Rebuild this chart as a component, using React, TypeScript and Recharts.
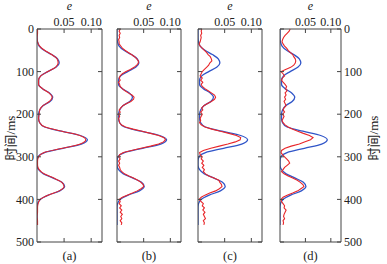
import React from "react";
import { LineChart, Line, XAxis, YAxis } from "recharts";

// time grid (ms)
const T10 = [0, 10, 20, 30, 40, 50, 60, 70, 80, 90, 100, 110, 120, 130, 140, 150, 160, 170, 180, 190, 200, 210, 220, 230, 240, 250, 260, 270, 280, 290, 300, 310, 320, 330, 340, 350, 360, 370, 380, 390, 400, 410, 420, 430, 440, 450, 460];
const T5 = [0, 5, 10, 15, 20, 25, 30, 35, 40, 45, 50, 55, 60, 65, 70, 75, 80, 85, 90, 95, 100, 105, 110, 115, 120, 125, 130, 135, 140, 145, 150, 155, 160, 165, 170, 175, 180, 185, 190, 195, 200, 205, 210, 215, 220, 225, 230, 235, 240, 245, 250, 255, 260, 265, 270, 275, 280, 285, 290, 295, 300, 305, 310, 315, 320, 325, 330, 335, 340, 345, 350, 355, 360, 365, 370, 375, 380, 385, 390, 395, 400, 405, 410, 415, 420, 425, 430, 435, 440, 445, 450, 455, 460];

// true e (blue), same in all panels, on T10
const blueE = [0.000, 0.000, 0.000, 0.001, 0.004, 0.013, 0.027, 0.038, 0.041, 0.035, 0.020, 0.007, 0.003, 0.003, 0.010, 0.023, 0.029, 0.024, 0.011, 0.005, 0.003, 0.003, 0.005, 0.014, 0.045, 0.080, 0.093, 0.082, 0.048, 0.014, 0.002, 0.000, 0.000, 0.003, 0.012, 0.030, 0.046, 0.051, 0.042, 0.021, 0.006, 0.001, 0.000, 0.000, 0.000, 0.000, 0.000];

// estimated e (red)
const redA = [0.001, 0.001, 0.000, 0.001, 0.005, 0.014, 0.027, 0.037, 0.039, 0.034, 0.020, 0.007, 0.003, 0.003, 0.010, 0.022, 0.028, 0.023, 0.011, 0.005, 0.004, 0.003, 0.005, 0.015, 0.046, 0.079, 0.090, 0.080, 0.047, 0.013, 0.003, 0.001, 0.001, 0.004, 0.013, 0.031, 0.046, 0.050, 0.041, 0.020, 0.006, 0.002, 0.001, 0.001, 0.000, 0.001, 0.001];
const redB = [0.006, 0.004, 0.006, 0.004, 0.005, 0.003, 0.004, 0.004, 0.007, 0.010, 0.015, 0.021, 0.027, 0.033, 0.037, 0.040, 0.040, 0.037, 0.032, 0.025, 0.017, 0.010, 0.006, 0.004, 0.006, 0.003, 0.005, 0.006, 0.010, 0.015, 0.021, 0.028, 0.032, 0.031, 0.026, 0.018, 0.011, 0.007, 0.004, 0.006, 0.003, 0.005, 0.003, 0.004, 0.005, 0.008, 0.016, 0.030, 0.047, 0.063, 0.078, 0.088, 0.091, 0.087, 0.078, 0.063, 0.045, 0.027, 0.012, 0.005, 0.003, 0.006, 0.003, 0.005, 0.003, 0.005, 0.006, 0.009, 0.014, 0.022, 0.031, 0.039, 0.045, 0.049, 0.050, 0.045, 0.038, 0.029, 0.019, 0.010, 0.004, 0.006, 0.004, 0.008, 0.005, 0.009, 0.006, 0.010, 0.007, 0.009, 0.006, 0.009, 0.008];
const redC = [0.007, 0.006, 0.007, 0.005, 0.006, 0.005, 0.004, 0.002, 0.004, 0.008, 0.012, 0.016, 0.019, 0.023, 0.025, 0.026, 0.022, 0.020, 0.016, 0.012, 0.008, 0.006, 0.004, 0.008, 0.005, 0.009, 0.006, 0.008, 0.013, 0.019, 0.025, 0.031, 0.033, 0.031, 0.025, 0.018, 0.011, 0.007, 0.009, 0.005, 0.008, 0.006, 0.004, 0.005, 0.003, 0.006, 0.013, 0.026, 0.042, 0.058, 0.072, 0.080, 0.079, 0.070, 0.056, 0.040, 0.024, 0.010, 0.003, 0.004, 0.008, 0.006, 0.010, 0.007, 0.011, 0.008, 0.012, 0.010, 0.014, 0.020, 0.030, 0.039, 0.041, 0.044, 0.045, 0.040, 0.033, 0.022, 0.013, 0.006, 0.002, 0.006, 0.010, 0.008, 0.012, 0.009, 0.013, 0.010, 0.012, 0.014, 0.010, 0.012, 0.011];
const redD = [0.020, 0.018, 0.014, 0.010, 0.007, 0.005, 0.004, 0.006, 0.009, 0.013, 0.016, 0.020, 0.025, 0.027, 0.030, 0.031, 0.030, 0.027, 0.021, 0.011, 0.002, 0.006, 0.009, 0.005, 0.003, 0.006, 0.010, 0.013, 0.011, 0.014, 0.010, 0.012, 0.009, 0.011, 0.008, 0.010, 0.012, 0.008, 0.006, 0.009, 0.005, 0.008, 0.006, 0.004, 0.006, 0.010, 0.016, 0.024, 0.035, 0.046, 0.058, 0.065, 0.060, 0.048, 0.038, 0.022, 0.010, 0.003, 0.002, 0.005, 0.009, 0.013, 0.017, 0.019, 0.014, 0.009, 0.006, 0.003, 0.008, 0.016, 0.025, 0.034, 0.040, 0.045, 0.047, 0.041, 0.035, 0.025, 0.014, 0.006, 0.002, 0.003, 0.006, 0.009, 0.008, 0.012, 0.010, 0.008, 0.007, 0.009, 0.006, 0.007, 0.006];

const xTicks = [0.05, 0.1];
const yTicks = [0, 100, 200, 300, 400, 500];
const tags = ["(a)", "(b)", "(c)", "(d)"];

const BLUE = "#3055c8";
const RED = "#e8262a";
const AXIS = "#444";
const SERIF = "Liberation Serif";
const CJK = "Noto Sans CJK SC";

const blueData = T10.map((t, i) => ({ t, e: blueE[i] }));
const toData = (ts: number[], vals: number[]) => ts.map((t, i) => ({ t, e: vals[i] }));

const panels = [
  { left: 0, leftW: 37, plotW: 65, rightW: 6, red: toData(T10, redA), curve: "monotone", showL: true, showR: false },
  { left: 111, leftW: 6, plotW: 64, rightW: 6, red: toData(T5, redB), curve: "linear", showL: false, showR: false },
  { left: 192, leftW: 6, plotW: 64, rightW: 6, red: toData(T5, redC), curve: "linear", showL: false, showR: false },
  { left: 274, leftW: 6, plotW: 61, rightW: 46, red: toData(T5, redD), curve: "linear", showL: false, showR: true },
];

const tickStyle = { fontSize: 12, fontFamily: SERIF, fill: "#222" };
const blank = () => "";

function Panel({ p }: { p: any }) {
  return (
    <div style={{ position: "absolute", left: p.left, top: 0 }}>
      <LineChart
        width={p.leftW + p.plotW + p.rightW}
        height={264}
        layout="vertical"
        margin={{ top: 0, right: 0, bottom: 0, left: 0 }}
      >
        <XAxis xAxisId="top" orientation="top" type="number" domain={[0, 0.12]} ticks={xTicks} interval={0}
          tickFormatter={(v) => v.toFixed(2)} height={29} tickSize={-4} tickMargin={7}
          stroke={AXIS} tick={tickStyle} allowDataOverflow />
        <XAxis xAxisId="bot" orientation="bottom" type="number" domain={[0, 0.12]} ticks={xTicks} interval={0}
          tickFormatter={blank} height={22} tickSize={-4} stroke={AXIS} tick={tickStyle} allowDataOverflow />
        <YAxis yAxisId="l" orientation="left" type="number" dataKey="t" domain={[0, 500]} ticks={yTicks} interval={0}
          tickFormatter={p.showL ? (v) => String(v) : blank}
          width={p.leftW} tickSize={-4} tickMargin={7} stroke={AXIS} tick={tickStyle} />
        <YAxis yAxisId="r" orientation="right" type="number" dataKey="t" domain={[0, 500]} ticks={yTicks} interval={0}
          tickFormatter={p.showR ? (v) => String(v) : blank}
          width={p.rightW} tickSize={-4} tickMargin={7} stroke={AXIS} tick={tickStyle} />
        <Line data={blueData} dataKey="e" xAxisId="top" yAxisId="l" type="monotone" stroke={BLUE}
          strokeWidth={1.3} dot={false} isAnimationActive={false} />
        <Line data={p.red} dataKey="e" xAxisId="bot" yAxisId="r" type={p.curve} stroke={RED}
          strokeWidth={1.1} dot={false} isAnimationActive={false} />
      </LineChart>
    </div>
  );
}

export default function App() {
  const centers = panels.map((p) => p.left + p.leftW + p.plotW / 2);
  return (
    <div style={{ position: "absolute", left: 0, top: 0, width: 387, height: 264, background: "#fff" }}>
      {panels.map((p, i) => (
        <Panel key={i} p={p} />
      ))}
      <svg width={387} height={264} style={{ position: "absolute", left: 0, top: 0, pointerEvents: "none" }}>
        {centers.map((c, i) => (
          <g key={i} fontFamily={SERIF} fill="#222">
            <text x={c} y={10} fontSize={12} fontStyle="italic" textAnchor="middle">e</text>
            <text x={c} y={260} fontSize={12.5} textAnchor="middle">{tags[i]}</text>
          </g>
        ))}
        {[15, 378].map((x) => (
          <text key={x} x={x} y={138} fontSize={13} fill="#222" textAnchor="middle" transform={`rotate(-90 ${x} 138)`}>
            <tspan fontFamily={CJK}>时间</tspan>
            <tspan fontFamily={SERIF}>/ms</tspan>
          </text>
        ))}
      </svg>
    </div>
  );
}
